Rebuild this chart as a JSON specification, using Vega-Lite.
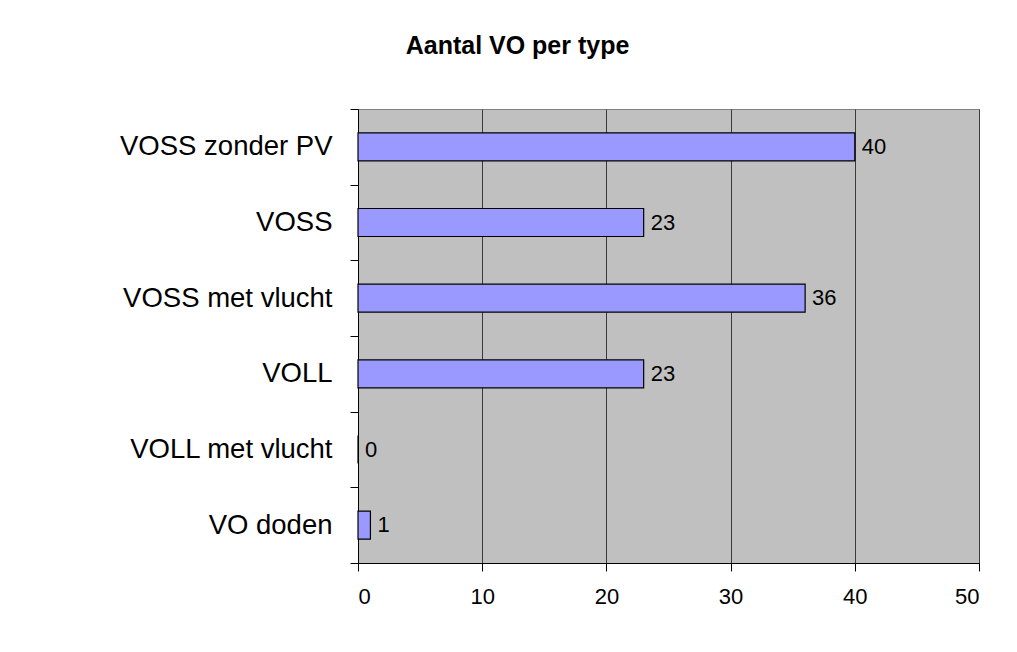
{
  "$schema": "https://vega.github.io/schema/vega-lite/v6.json",
  "width": 621,
  "height": 454,
  "autosize": "none",
  "padding": {"left": 358, "top": 109, "right": 38, "bottom": 89},
  "background": "white",
  "title": {
    "text": "Aantal VO per type",
    "font": "Liberation Sans",
    "fontSize": 25,
    "fontWeight": "bold",
    "color": "black",
    "anchor": "middle",
    "dx": -151,
    "offset": 36
  },
  "data": {
    "values": [
      {"type": "VOSS zonder PV", "count": 40},
      {"type": "VOSS\u00a0", "count": 23},
      {"type": "VOSS met vlucht", "count": 36},
      {"type": "VOLL", "count": 23},
      {"type": "VOLL met vlucht", "count": 0},
      {"type": "VO doden", "count": 1}
    ]
  },
  "config": {
    "view": {"fill": "#c0c0c0", "stroke": "#808080", "strokeWidth": 1},
    "axis": {
      "labelFont": "Liberation Sans",
      "labelColor": "black",
      "domainColor": "black",
      "tickColor": "black",
      "tickSize": 8,
      "title": null
    }
  },
  "encoding": {
    "y": {
      "field": "type",
      "type": "nominal",
      "sort": null,
      "scale": {"paddingInner": 0, "paddingOuter": 0},
      "axis": {
        "labelFontSize": 27.5,
        "labelPadding": 18,
        "labelLimit": 0,
        "tickBand": "extent",
        "grid": false,
        "title": null
      }
    },
    "x": {
      "field": "count",
      "type": "quantitative",
      "scale": {"domain": [0, 50], "nice": false},
      "axis": {
        "values": [0, 10, 20, 30, 40, 50],
        "grid": true,
        "gridColor": "#3a3a3a",
        "gridOpacity": 1,
        "labelFontSize": 22,
        "labelPadding": 15,
        "title": null
      }
    }
  },
  "layer": [
    {
      "mark": {"type": "bar", "fill": "#9999ff", "stroke": "black", "strokeWidth": 1.2, "height": {"band": 0.37}}
    },
    {
      "mark": {
        "type": "text",
        "align": "left",
        "baseline": "middle",
        "dx": 7,
        "font": "Liberation Sans",
        "fontSize": 22,
        "color": "black"
      },
      "encoding": {"text": {"field": "count", "type": "quantitative"}}
    }
  ]
}
